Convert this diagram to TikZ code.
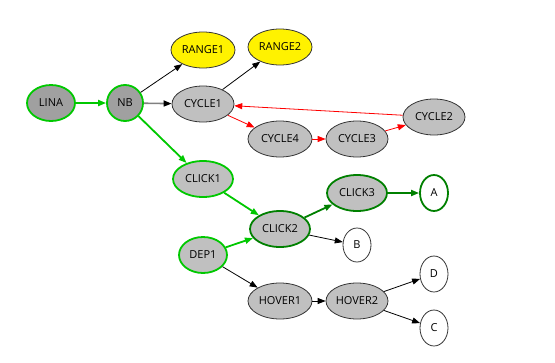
\documentclass[tikz,border=0pt]{standalone}
\usepackage{fontspec}
\setmainfont{Open Sans}
\usetikzlibrary{shapes.geometric,arrows.meta}
\definecolor{dkgrey}{HTML}{A0A0A0}
\definecolor{ltgrey}{HTML}{C0C0C0}
\definecolor{brgreen}{HTML}{00C800}
\definecolor{dkgreen}{HTML}{008000}
\definecolor{edgegrey}{HTML}{808080}
\tikzset{
  nd/.style={ellipse,draw=black!80,line width=0.8pt,inner sep=0pt,minimum height=36pt,
    font=\fontsize{11}{13}\selectfont},
  grey/.style={nd,fill=ltgrey},
  dgrey/.style={nd,fill=dkgrey},
  yel/.style={nd,fill=yellow},
  white/.style={nd,fill=white},
  gbord/.style={draw=brgreen,line width=1.8pt},
  dgbord/.style={draw=dkgreen,line width=1.8pt},
  tip/.style={-{Triangle[length=8pt,width=6pt]}},
  e/.style={tip,draw=black,line width=0.8pt},
  er/.style={tip,draw=red,line width=0.8pt},
  eg/.style={tip,draw=brgreen,line width=1.8pt},
  edg/.style={tip,draw=dkgreen,line width=1.8pt},
}
\begin{document}
\begin{tikzpicture}[x=1pt,y=-1pt]
\useasboundingbox (0,0) rectangle (555,362);
\node[dgrey,gbord,minimum width=48pt] (lina) at (51,103) {LINA};
\node[dgrey,gbord,minimum width=36pt] (nb) at (125,103) {NB};
\node[yel,minimum width=64pt] (r1) at (203,50) {RANGE1};
\node[yel,minimum width=64pt] (r2) at (280,47) {RANGE2};
\node[grey,minimum width=62pt] (c1) at (203,104) {CYCLE1};
\node[grey,minimum width=64pt] (c4) at (280,139) {CYCLE4};
\node[grey,minimum width=62pt] (c3) at (357,139) {CYCLE3};
\node[grey,minimum width=62pt] (c2) at (434,117) {CYCLE2};
\node[grey,gbord,minimum width=60pt] (k1) at (203,179) {CLICK1};
\node[grey,dgbord,minimum width=60pt] (k2) at (280,229) {CLICK2};
\node[grey,dgbord,minimum width=60pt] (k3) at (357,193) {CLICK3};
\node[white,dgbord,minimum width=28pt] (a) at (434,193) {A};
\node[white,minimum width=28pt,minimum height=34pt] (b) at (357,245) {B};
\node[grey,gbord,minimum width=48pt] (dep) at (203,255) {DEP1};
\node[grey,minimum width=64pt] (h1) at (280,301) {HOVER1};
\node[grey,minimum width=62pt] (h2) at (357,301) {HOVER2};
\node[white,minimum width=28pt] (d) at (434,274) {D};
\node[white,minimum width=28pt] (c) at (434,328) {C};

\draw[eg] (lina) -- (nb);
\draw[e] (nb) -- (r1);
\draw[draw=edgegrey,line width=1.6pt,-{Triangle[length=8pt,width=6pt,color=black]}] (nb) -- (c1);
\draw[eg] (nb) -- (k1);
\draw[e] (c1) -- (r2);
\draw[er] (c1) -- (c4);
\draw[er] (c4) -- (c3);
\draw[er] (c3) -- (c2);
\draw[er] (c2) -- (c1);
\draw[eg] (k1) -- (k2);
\draw[eg] (dep) -- (k2);
\draw[edg] (k2) -- (k3);
\draw[edg] (k3) -- (a);
\draw[e] (k2) -- (b);
\draw[e] (dep) -- (h1);
\draw[e] (h1) -- (h2);
\draw[e] (h2) -- (d);
\draw[e] (h2) -- (c);
\end{tikzpicture}
\end{document}
